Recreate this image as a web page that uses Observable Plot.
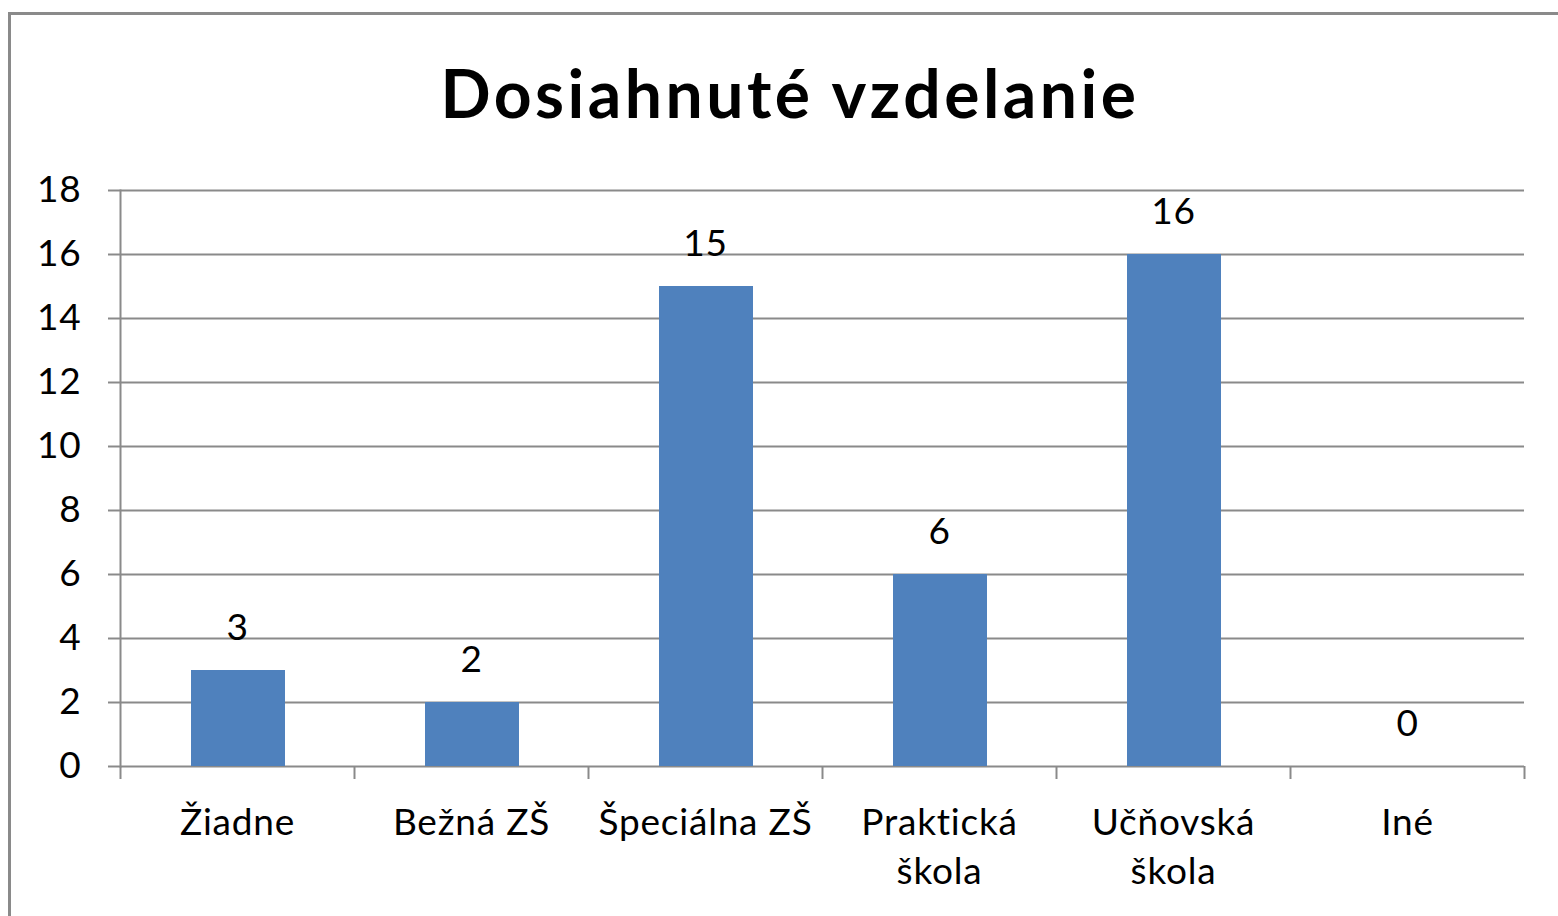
<!DOCTYPE html>
<html>
<head>
<meta charset="utf-8">
<script src="https://cdn.jsdelivr.net/npm/d3@7"></script>
<script src="https://cdn.jsdelivr.net/npm/@observablehq/plot@0.6"></script>
<style>
  html, body { margin: 0; padding: 0; width: 1558px; height: 916px; overflow: hidden; background: #fff; }
  #frame { position: absolute; left: 8px; top: 12px; width: 1700px; height: 1100px; border: 3px solid #8a8a8a; box-sizing: border-box; }
  #title { position: absolute; left: 0; top: 53px; width: 1580px; text-align: center; font-family: Lato, "Open Sans", sans-serif; font-weight: bold; font-size: 66px; letter-spacing: 3.5px; line-height: 80px; color: #000; }
  #chart { position: absolute; left: 0; top: 0; }
</style>
</head>
<body>
<div id="frame"></div>
<div id="title">Dosiahnuté vzdelanie</div>
<div id="chart"></div>
<script>
const categories = ["Žiadne", "Bežná ZŠ", "Špeciálna ZŠ", "Praktická\nškola", "Učňovská\nškola", "Iné"];
const values = [3, 2, 15, 6, 16, 0];
const yTicks = [0, 2, 4, 6, 8, 10, 12, 14, 16, 18];

const data = categories.map((c, i) => ({cat: c, value: values[i]}));

const W = 1558, H = 916;
const mL = 120, mR = 34, mT = 190, mB = 150;
const step = (W - mL - mR) / categories.length;
const gridColor = "#8a8a8a";
const font = "Lato, 'Open Sans', sans-serif";
const fs = 37;

const chart = Plot.plot({
  width: W,
  height: H,
  marginLeft: mL,
  marginRight: mR,
  marginTop: mT,
  marginBottom: mB,
  style: {fontFamily: font, fontSize: fs + "px", color: "#000", background: "transparent", overflow: "visible", letterSpacing: "0.8px"},
  x: {domain: categories, paddingInner: 0.6, paddingOuter: 0.3, label: null},
  y: {domain: [0, 18], label: null},
  marks: [
    Plot.gridY(yTicks, {stroke: gridColor, strokeOpacity: 1, strokeWidth: 2}),
    Plot.axisY(yTicks, {tickSize: 12, tickPadding: 27, stroke: gridColor, strokeWidth: 2, fontSize: fs, fill: "#000", label: null}),
    Plot.frame({anchor: "left", stroke: gridColor, strokeWidth: 2}),
    Plot.axisX({tickSize: 13, dx: -step / 2, tickFormat: null, stroke: gridColor, strokeWidth: 2, label: null}),
    Plot.ruleX([categories[categories.length - 1]], {dx: step / 2, y1: 0, y2: 0, insetBottom: -13, stroke: gridColor, strokeWidth: 2}),
    Plot.barY(data, {x: "cat", y: "value", fill: "#4F81BD", dx: 1}),
    Plot.text(data, {x: "cat", y: "value", text: d => String(d.value), lineAnchor: "bottom", dy: -31, fontSize: fs, fill: "#000"}),
    Plot.text(categories, {x: d => d, text: d => d, frameAnchor: "bottom", lineAnchor: "top", dy: 34, lineHeight: 1.32, fontSize: fs, fill: "#000"})
  ]
});
document.getElementById("chart").appendChild(chart);
</script>
</body>
</html>
